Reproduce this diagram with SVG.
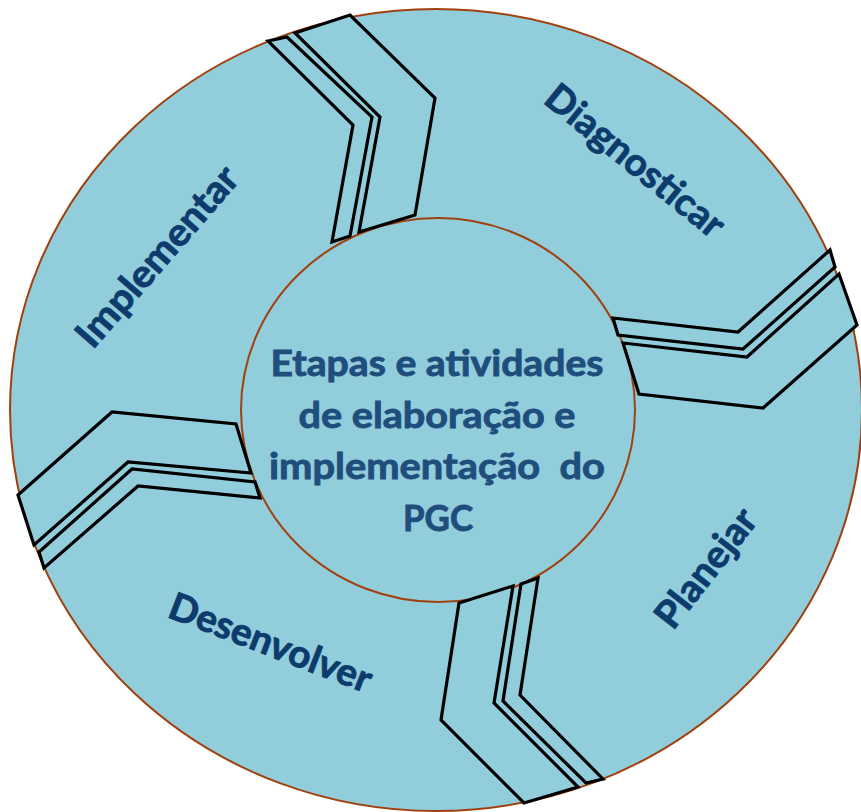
<svg xmlns="http://www.w3.org/2000/svg" width="861" height="812" viewBox="0 0 861 812">
<style>
.bg{fill:#92CDDC;stroke:#A0410D;stroke-width:2}
.chev{fill:#92CDDC;stroke:#000;stroke-width:3.2;stroke-linejoin:miter}
.lbl{font-family:Lato,"Open Sans","Liberation Sans",sans-serif;font-weight:bold;font-size:38px;fill:#0D3B6C;stroke:#0D3B6C;stroke-width:0.9;text-anchor:middle}
.ctr{font-family:Lato,"Open Sans","Liberation Sans",sans-serif;font-weight:bold;font-size:37px;fill:#1F4E7D;stroke:#1F4E7D;stroke-width:0.9;text-anchor:middle;white-space:pre}
</style>
<rect width="861" height="812" fill="#FFFFFF"/>
<g id="outer">
<ellipse class="bg" cx="436" cy="410" rx="426" ry="401"/>
</g>
<g id="inner-ring">
<ellipse cx="438" cy="410" rx="197" ry="192" fill="none" stroke="#A0410D" stroke-width="2"/>
</g>
<g id="connectors">
<polygon class="chev" points="295,33 350,15 435,98 415,215 359,232 380,117"/>
<polygon class="chev" points="268,41 287,37 372,117 350,236 332,242 353,125"/>
<polygon class="chev" points="613,318 738,332 830,250 835,267 743,349 618,335"/>
<polygon class="chev" points="623,343 747,357 839,274 857,325 763,408 639,394"/>
<polygon class="chev" points="459,603 513,586 494,703 578,787 524,803 441,720"/>
<polygon class="chev" points="521,584 538,578 520,695 603,779 586,783 503,701"/>
<polygon class="chev" points="18,495 112,412 236,424 251,473 128,462 34,545"/>
<polygon class="chev" points="39,552 132,469 255,482 260,498 138,486 44,568"/>
</g>
<g id="node-diagnosticar">
<text class="lbl" transform="translate(627,171) rotate(39)" textLength="219" lengthAdjust="spacingAndGlyphs">Diagnosticar</text>
</g>
<g id="node-planejar">
<text class="lbl" transform="translate(716,576) rotate(-52)" textLength="140" lengthAdjust="spacingAndGlyphs">Planejar</text>
</g>
<g id="node-desenvolver">
<text class="lbl" transform="translate(266,655) rotate(21)" textLength="214" lengthAdjust="spacingAndGlyphs">Desenvolver</text>
</g>
<g id="node-implementar">
<text class="lbl" transform="translate(167,265) rotate(-49)" textLength="226" lengthAdjust="spacingAndGlyphs">Implementar</text>
</g>
<g id="node-center">
<text class="ctr" x="437" y="376" textLength="333" lengthAdjust="spacingAndGlyphs">Etapas e atividades</text>
<text class="ctr" x="437" y="428" textLength="277" lengthAdjust="spacingAndGlyphs">de elaboração e</text>
<text class="ctr" x="437" y="479" textLength="336" lengthAdjust="spacingAndGlyphs">implementação  do</text>
<text class="ctr" x="438" y="531" textLength="70" lengthAdjust="spacingAndGlyphs">PGC</text>
</g>
</svg>
